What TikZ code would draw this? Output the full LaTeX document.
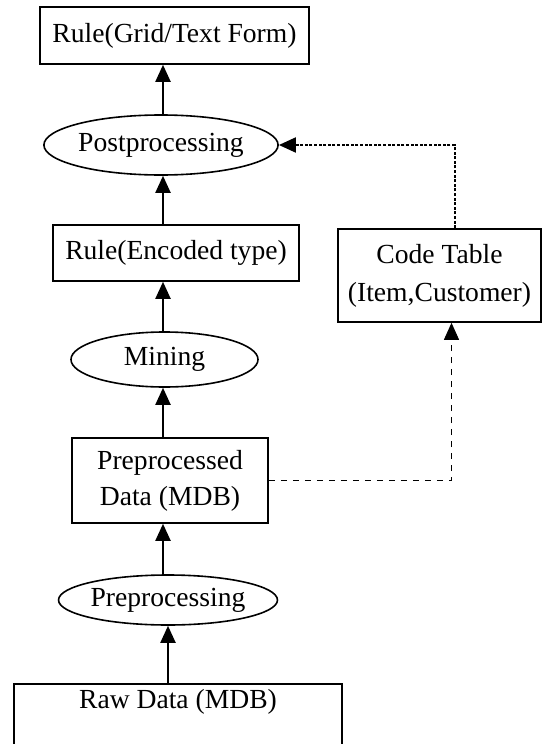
\documentclass[tikz,border=0pt]{standalone}
\usepackage{fontspec}
\setmainfont{Liberation Serif}
\usetikzlibrary{arrows.meta,shapes.geometric}

\tikzset{
  box/.style={draw, line width=0.8pt, rectangle, inner sep=0pt, align=center,
    font=\fontsize{13.8}{18}\selectfont},
  oval/.style={draw, line width=0.8pt, ellipse, inner sep=0pt,
    font=\fontsize{13.8}{18}\selectfont},
  arr/.style={line width=1pt, -{Triangle[width=7.5pt,length=8.5pt]}},
  dotarr/.style={line width=1pt, dash pattern=on 1.5pt off 0.8pt,
    -{Triangle[width=7.5pt,length=8.5pt]}},
  dasharr/.style={line width=0.5pt, dash pattern=on 3pt off 3pt,
    -{Triangle[width=7.5pt,length=8.5pt]}}
}

\begin{document}
\begin{tikzpicture}[x=0.5pt,y=-0.5pt]
                \useasboundingbox (0,0) rectangle (542,744);
                \clip (0,0) rectangle (542,744);

                \coordinate (spine) at (163,0);

                \node[box, minimum width=134.5pt, minimum height=28.5pt] (grid) at (174.5,35.5) {Rule(Grid/Text Form)};
                \node[oval, minimum width=113pt, minimum height=30pt] (post) at (161,145) {Postprocessing};
                \node[box, minimum width=123pt, minimum height=28pt] (enc) at (176,253) {Rule(Encoded type)};
                \node[box, minimum width=101.5pt, minimum height=46.5pt, font=\fontsize{13.8}{19}\selectfont] (code) at (439.5,275.5) {Code Table\\(Item,Customer)};
                \node[oval, minimum width=93.5pt, minimum height=27.5pt] (mining) at (164.5,359.5) {Mining};
                \node[box, minimum width=98pt, minimum height=42.5pt] (prep) at (170,480.5) {Preprocessed\\Data (MDB)};
                \node[oval, minimum width=102.5pt, minimum height=25pt] (preproc) at (168,600) {Preprocessing};
                \node[box, anchor=north, minimum width=164pt, inner ysep=3pt, text height=9.5pt, text depth=40pt] (raw) at (178,683) {Raw Data (MDB)};

                \draw[arr] (spine |- post.north) -- (spine |- grid.south);
                \draw[arr] (spine |- enc.north) -- (spine |- post.south);
                \draw[arr] (spine |- mining.north) -- (spine |- enc.south);
                \draw[arr] (spine |- prep.north) -- (spine |- mining.south);
                \draw[arr] (spine |- preproc.north) -- (spine |- prep.south);
                \draw[arr] (preproc.south |- raw.north) -- (preproc.south);

                \draw[dotarr] ([xshift=7.5pt]code.north) |- (post.east);
                \draw[dasharr] (prep.east) -| ([xshift=6pt]code.south);

            \end{tikzpicture}
\end{document}
